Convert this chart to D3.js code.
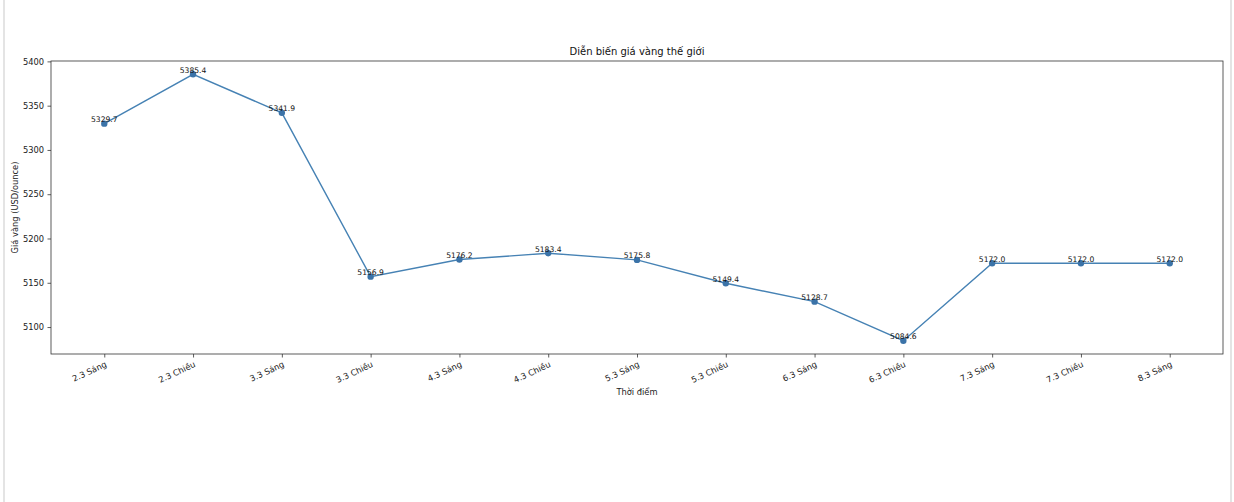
<!DOCTYPE html>
<html>
<head>
<meta charset="utf-8">
<script src="https://cdn.jsdelivr.net/npm/d3@7"></script>
<style>
html,body{margin:0;padding:0;background:#fff;}
svg{display:block;font-family:"DejaVu Sans",sans-serif;}
</style>
</head>
<body>
<svg id="chart" width="1234" height="502"></svg>
<script>
const categories = ["2.3 Sáng","2.3 Chiều","3.3 Sáng","3.3 Chiều","4.3 Sáng","4.3 Chiều","5.3 Sáng","5.3 Chiều","6.3 Sáng","6.3 Chiều","7.3 Sáng","7.3 Chiều","8.3 Sáng"];
const prices = [5329.7,5385.4,5341.9,5156.9,5176.2,5183.4,5175.8,5149.4,5128.7,5084.6,5172.0,5172.0,5172.0];
const yTicks = [5100,5150,5200,5250,5300,5350,5400];
const titleText = "Diễn biến giá vàng thế giới";
const xLabel = "Thời điểm";
const yLabel = "Giá vàng (USD/ounce)";

const svg = d3.select("#chart");
// page side borders
svg.append("rect").attr("x",3).attr("y",0).attr("width",2).attr("height",502).attr("fill","#e4e4e4");
svg.append("rect").attr("x",1230).attr("y",0).attr("width",2).attr("height",502).attr("fill","#e4e4e4");

const L=51, R=1223, T=61, B=354;
const n = categories.length;
const x = d3.scaleLinear().domain([-0.6, n-1+0.6]).range([L,R]);
const yMin = d3.min(prices), yMax = d3.max(prices), pad=(yMax-yMin)*0.05;
const y = d3.scaleLinear().domain([yMin-pad, yMax+pad]).range([B,T]);

const color = "#4682b4";

// frame
svg.append("rect").attr("x",L).attr("y",T).attr("width",R-L).attr("height",B-T)
  .attr("fill","none").attr("stroke","#333").attr("stroke-width",0.8);

// y axis
const yAxis = svg.append("g").attr("transform",`translate(${L},0)`)
  .call(d3.axisLeft(y).tickValues(yTicks).tickSize(3.5).tickPadding(3.5).tickFormat(d3.format("d")));
yAxis.select(".domain").remove();
yAxis.selectAll("line").attr("stroke","#333").attr("stroke-width",0.8);
yAxis.selectAll("text").attr("font-size","8.3px").attr("fill","#222").attr("font-family","DejaVu Sans");

// x axis
const xAxis = svg.append("g").attr("transform",`translate(0,${B})`)
  .call(d3.axisBottom(x).tickValues(d3.range(n)).tickSize(3.5).tickFormat(i=>categories[i]));
xAxis.select(".domain").remove();
xAxis.selectAll("line").attr("stroke","#333").attr("stroke-width",0.8);
xAxis.selectAll("text")
  .attr("font-size","8.3px").attr("fill","#222").attr("font-family","DejaVu Sans")
  .attr("text-anchor","end").attr("dy","0.71em").attr("y",7)
  .attr("transform","rotate(-25) translate(0,0)")
  .each(function(){ d3.select(this).attr("x",0); })
  .attr("transform","translate(0,7) rotate(-25)").attr("y",0);

// line
const line = d3.line().x((d,i)=>x(i)).y(d=>y(d));
svg.append("path").datum(prices).attr("d",line).attr("fill","none").attr("stroke",color).attr("stroke-width",1.4);

svg.selectAll("circle.pt").data(prices).enter().append("circle")
  .attr("cx",(d,i)=>x(i)).attr("cy",d=>y(d)).attr("r",3.2).attr("fill","#3b73a8");

svg.selectAll("text.lbl").data(prices).enter().append("text")
  .attr("x",(d,i)=>x(i)).attr("y",d=>y(d)-1.5)
  .attr("text-anchor","middle").attr("font-size","7.6px").attr("fill","#111")
  .text(d=>d.toFixed(1));

// title & labels
svg.append("text").attr("x",(L+R)/2).attr("y",55).attr("text-anchor","middle")
  .attr("font-size","10px").attr("fill","#111").text(titleText);
svg.append("text").attr("x",(L+R)/2).attr("y",395).attr("text-anchor","middle")
  .attr("font-size","8.3px").attr("fill","#222").text(xLabel);
svg.append("text").attr("transform",`translate(18,${(T+B)/2}) rotate(-90)`).attr("text-anchor","middle")
  .attr("font-size","8.3px").attr("fill","#222").text(yLabel);
</script>
</body>
</html>
